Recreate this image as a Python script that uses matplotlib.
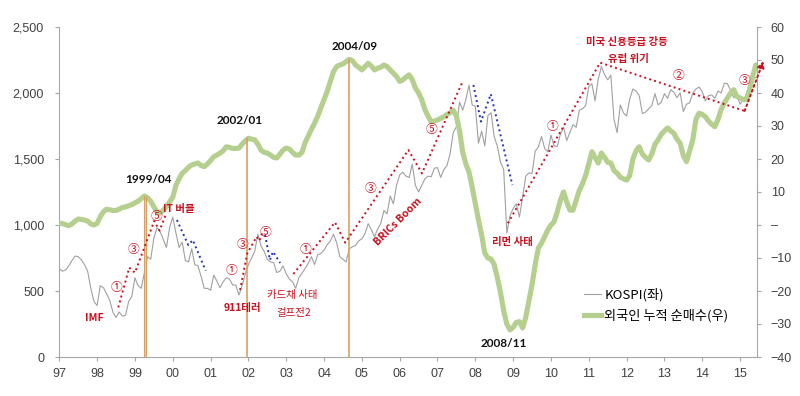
import numpy as np
import matplotlib
matplotlib.use("Agg")
import matplotlib.pyplot as plt
from matplotlib.ticker import FuncFormatter, MultipleLocator
from matplotlib.lines import Line2D

plt.rcParams['font.family'] = ['Liberation Sans', 'Noto Sans CJK KR', 'DejaVu Sans']
KR = ['Noto Sans CJK KR', 'DejaVu Sans']

# KOSPI, monthly (value near the start of each month, Jan 1997 .. Jun 2015)
kospi = [
    670, 650, 660, 690, 730, 765, 760, 735, 700, 650, 520, 420,            # 1997
    390, 540, 525, 480, 430, 340, 300, 340, 310, 315, 420, 460,            # 1998
    600, 540, 520, 640, 760, 740, 900, 980, 950, 890, 830, 980,            # 1999
    1060, 940, 830, 870, 730, 720, 820, 700, 690, 610, 520, 520,           # 2000
    505, 620, 575, 525, 570, 600, 590, 545, 545, 470, 540, 630,            # 2001
    700, 750, 800, 930, 840, 800, 740, 720, 715, 640, 650, 690,            # 2002
    630, 590, 570, 520, 600, 635, 670, 710, 760, 700, 775, 785,            # 2003
    810, 850, 880, 930, 865, 760, 740, 720, 820, 835, 845, 880,            # 2004
    895, 935, 1010, 965, 910, 970, 1010, 1110, 1085, 1220, 1160, 1300,     # 2005
    1380, 1400, 1370, 1360, 1460, 1300, 1250, 1300, 1350, 1370, 1365, 1430,  # 2006
    1435, 1360, 1420, 1450, 1540, 1700, 1745, 1930, 1870, 1950, 2060, 1910,  # 2007
    1900, 1620, 1710, 1600, 1830, 1850, 1670, 1595, 1475, 1420, 940, 1070,   # 2008
    1124, 1160, 1060, 1210, 1370, 1395, 1390, 1560, 1590, 1670, 1580, 1555,  # 2009
    1680, 1600, 1595, 1690, 1740, 1640, 1700, 1760, 1740, 1870, 1880, 1905,  # 2010
    2050, 2070, 1940, 2105, 2200, 2140, 2100, 2135, 1800, 1700, 1910, 1850,  # 2011
    1825, 1955, 2030, 2015, 1980, 1845, 1855, 1880, 1905, 1995, 1910, 1930,  # 2012
    1995, 1960, 2025, 2005, 1965, 2000, 1860, 1915, 1925, 2000, 2030, 2045,  # 2013
    2010, 1940, 1980, 1985, 1960, 2015, 2000, 2075, 2070, 2020, 1965, 1980,  # 2014
    1915, 1950, 1985, 2040, 2125, 2115,                                      # 2015
]

# foreign investors' cumulative net purchase (trillion won), same months
foreign = [
    0.6, 0.4, 0.1, -0.2, 0.3, 1.2, 1.8, 1.7, 1.5, 1.2, 0.3, 0.0,
    0.5, 2.5, 4.0, 4.8, 4.6, 4.4, 4.4, 4.8, 5.3, 5.5, 5.8, 6.2,
    6.7, 7.2, 8.0, 8.8, 8.2, 7.2, 5.5, 4.0, 3.6, 4.5, 5.6, 7.0,
    8.4, 12.0, 14.0, 15.7, 16.5, 17.5, 18.2, 18.5, 18.8, 18.0, 17.7, 18.5,
    19.5, 20.7, 21.2, 21.8, 22.5, 23.7, 23.5, 23.2, 23.2, 23.3, 24.5, 25.5,
    26.3, 26.0, 25.8, 24.5, 22.7, 22.0, 21.8, 21.2, 20.5, 20.3, 21.5, 22.7,
    23.3, 23.0, 22.0, 21.2, 21.2, 22.0, 25.0, 27.0, 29.0, 30.9, 33.0, 35.5,
    38.0, 40.5, 43.5, 46.5, 48.0, 48.5, 48.8, 49.5, 50.2, 49.8, 48.5, 47.8,
    47.0, 48.0, 49.0, 48.2, 47.0, 47.5, 47.8, 48.5, 48.0, 47.0, 46.0, 45.0,
    43.5, 44.0, 44.8, 45.5, 44.0, 41.5, 40.0, 38.0, 35.0, 33.0, 31.3, 31.5,
    31.8, 32.3, 32.8, 33.5, 34.0, 34.8, 33.0, 28.5, 22.0, 18.5, 16.0, 11.5,
    6.5, 1.5, -3.0, -8.5, -10.0, -10.3, -12.0, -16.0, -20.5, -26.0, -30.0, -31.8,
    -31.0, -29.5, -29.3, -31.2, -28.0, -23.0, -18.0, -12.0, -7.0, -5.5, -3.5, -1.5,
    0.0, 1.0, 4.0, 7.5, 10.0, 7.0, 4.5, 4.5, 7.5, 10.5, 12.5, 15.0,
    18.5, 22.2, 20.5, 18.8, 21.8, 20.5, 19.0, 18.8, 16.5, 15.7, 14.5, 14.0,
    13.6, 15.0, 20.0, 22.5, 23.7, 21.5, 20.5, 19.7, 21.5, 24.5, 25.8, 27.5,
    28.5, 29.4, 28.5, 27.8, 26.0, 24.8, 21.0, 19.2, 22.5, 25.8, 32.0, 33.9,
    33.5, 32.8, 31.5, 30.5, 29.8, 32.0, 35.0, 37.0, 38.5, 40.0, 41.0, 38.9,
    38.5, 38.0, 38.0, 41.0, 45.0, 48.5,
]

t = 1997 + np.arange(len(kospi)) / 12.0

# wave sketches on the KOSPI scale (year, index level)
red_waves = [
    ([98.56, 98.85, 99.0, 99.51, 99.65, 99.82], [376, 677, 639, 1030, 957, 1083]),
    ([101.78, 101.97, 102.22, 102.29, 102.38], [508, 786, 911, 881, 949]),
    ([103.19, 104.29, 104.56, 106.23, 106.59, 107.65], [629, 1020, 866, 1568, 1391, 2078]),
    ([108.86, 111.30, 115.12], [1013, 2230, 1864]),
]
blue_waves = [
    ([100.11, 100.41, 100.53, 100.87], [1038, 848, 886, 654]),
    ([102.44, 102.57, 102.65, 102.84], [924, 735, 798, 712]),
    ([107.95, 108.15, 108.41, 108.98], [2061, 1783, 1992, 1303]),
]
arrow_from = (115.12, 1864)
arrow_to = (115.62, 2243)

# marked peaks of foreign buying (year, label, cumulative value)
peak_x = [99.26, 101.97, 104.66]
peak_top = [8.8, 26.3, 50.2]
peak_labels = ['1999/04', '2002/01', '2004/09']
peak_label_pos = [(99.35, 1341), (101.78, 1788), (104.80, 2349)]

events = [
    ('IMF', 97.92, 295, 0, 'bold'),
    ('IT 버블', 100.17, 1121, 0, 'bold'),
    ('911테러', 101.83, 371, 0, 'bold'),
    ('카드채 사태', 103.16, 466, 0, 'normal'),
    ('걸프전2', 103.21, 333, 0, 'normal'),
    ('BRICs Boom', 105.96, 1023, 45, 'bold'),
    ('리먼 사태', 108.98, 871, 0, 'bold'),
    ('미국 신용등급 강등', 112.02, 2383, 0, 'bold'),
    ('유럽 위기', 112.05, 2258, 0, 'bold'),
]
circles = [
    ('①', 98.50, 523), ('③', 98.96, 811), ('⑤', 99.58, 1063),
    ('①', 101.56, 659), ('③', 101.85, 849), ('⑤', 102.44, 942),
    ('①', 103.50, 816), ('③', 105.22, 1278), ('⑤', 106.85, 1720),
    ('①', 110.05, 1745), ('②', 113.36, 2136), ('③', 115.12, 2098),
]

years = list(range(1997, 2016))
year_labels = ['%02d' % (y % 100) for y in years]

RED = '#C8101E'
GREEN = '#B5CF8F'
ORANGE = '#D9A066'
AXC = '#A6A6A6'
TXT = '#404040'

fig = plt.figure(figsize=(8, 3.96), dpi=100)
ax1 = fig.add_axes([59.3 / 800, 1 - 357 / 396, (756.7 - 59.3) / 800, 330 / 396])
ax2 = ax1.twinx()

ax1.plot(t, kospi, color='#A0A0A0', lw=0.8, label='KOSPI(좌)')
ax2.plot(t, foreign, color=GREEN, lw=3.7, solid_capstyle='round', label='외국인 누적 순매수(우)')

# orange markers at the peaks of foreign buying
ax2.fill_betweenx([-40, peak_top[0]], 1999.235, 1999.285, color='#EFCFA8', lw=0)
ax2.vlines([1999.235, 1999.285], -40, peak_top[0], color=ORANGE, lw=0.8)
ax2.vlines([1900 + x for x in peak_x[1:]], -40, peak_top[1:], color=ORANGE, lw=1.2)
for (lx, ly), lab in zip(peak_label_pos, peak_labels):
    ax1.text(1900 + lx, ly, lab, ha='center', va='center', fontsize=8.5,
             fontweight='bold', family=['Lato', 'DejaVu Sans'], color='#111111')

tr = ax1.transData
for xs, ys in red_waves:
    ax2.plot([1900 + x for x in xs], ys, color=RED, lw=1.4, ls=':', transform=tr)
for xs, ys in blue_waves:
    ax2.plot([1900 + x for x in xs], ys, color='#2233BB', lw=1.4, ls=':', transform=tr)
ax2.annotate('', xy=(1900 + arrow_to[0], arrow_to[1]), xycoords=tr,
             xytext=(1900 + arrow_from[0], arrow_from[1]), textcoords=tr,
             arrowprops=dict(arrowstyle='-|>', color=RED, lw=1.4, ls=':',
                             mutation_scale=10, shrinkA=0, shrinkB=0),
             annotation_clip=False)

for lab, x, y, rot, w in events:
    ax2.text(1900 + x, y, lab, transform=tr, ha='center', va='center',
             fontsize=7.5, fontweight=w, color=RED, rotation=rot, family=KR)
for lab, x, y in circles:
    ax2.text(1900 + x, y, lab, transform=tr, ha='center', va='center',
             fontsize=8.5, color=RED, family=KR)

ax2.text(2008.74, -35.8, '2008/11', ha='center', va='center', fontsize=8.5,
         fontweight='bold', family=['Lato', 'DejaVu Sans'], color='#111111')

# axes styling
ax1.set_xlim(1997, 2015.44)
ax1.set_ylim(0, 2500)
ax2.set_ylim(-40, 60)
ax1.set_xticks(years)
ax1.set_xticklabels(year_labels)
ax1.yaxis.set_major_locator(MultipleLocator(500))
ax1.yaxis.set_major_formatter(FuncFormatter(lambda v, p: f'{v:,.0f}'))
ax2.yaxis.set_major_locator(MultipleLocator(10))


def right_fmt(v, p):
    if abs(v) < 1e-9:
        return '–'
    if v < 0:
        return '−%d' % abs(v)
    return '%d' % v


ax2.yaxis.set_major_formatter(FuncFormatter(right_fmt))

for ax in (ax1, ax2):
    ax.spines['top'].set_visible(False)
    for s in ('left', 'right', 'bottom'):
        ax.spines[s].set_color(AXC)
        ax.spines[s].set_linewidth(0.8)
    ax.tick_params(colors=AXC, labelcolor=TXT, labelsize=9, length=3, width=0.8)
ax1.spines['right'].set_visible(False)
ax2.spines['left'].set_visible(False)
ax2.spines['bottom'].set_visible(False)
ax1.tick_params(axis='y', pad=8)
ax1.tick_params(axis='x', pad=5)
ax2.tick_params(axis='y', pad=7)

handles = [Line2D([], [], color='#A0A0A0', lw=0.8),
           Line2D([], [], color=GREEN, lw=3.7)]
ax2.legend(handles, ['KOSPI(좌)', '외국인 누적 순매수(우)'], loc='upper left',
           bbox_to_anchor=(584 / 800, 1 - 288 / 396), bbox_transform=fig.transFigure,
           frameon=False, prop={'family': KR, 'size': 9.5}, handlelength=1.3,
           handletextpad=0.25, labelspacing=0.6, borderpad=0, borderaxespad=0)

fig.savefig('out.png', dpi=100)
